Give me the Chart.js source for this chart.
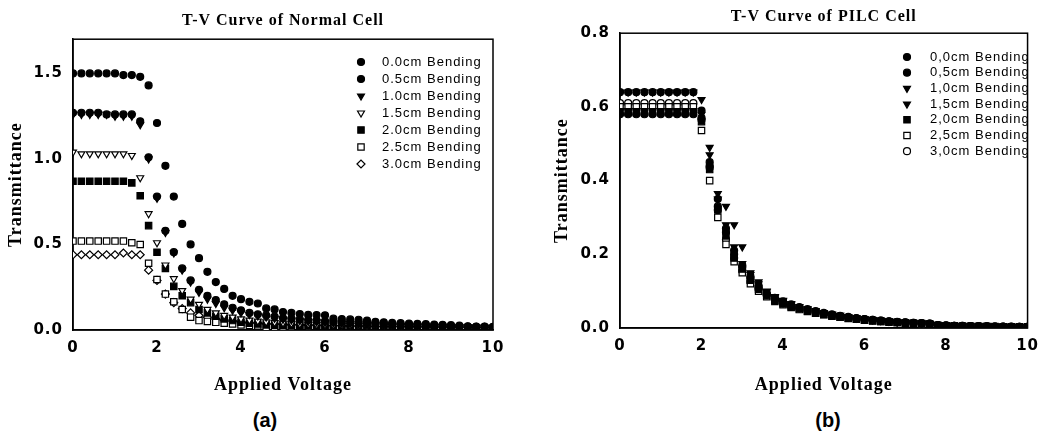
<!DOCTYPE html>
<html>
<head>
<meta charset="utf-8">
<script src="https://cdn.jsdelivr.net/npm/chart.js@4.4.1/dist/chart.umd.min.js"></script>
<style>
  html, body { margin: 0; padding: 0; background: #fff; }
  body { width: 1048px; height: 436px; position: relative; overflow: hidden; }
  canvas { position: absolute; top: 0; }
  #chartA { left: 0; }
  #chartB { left: 520px; }
  .caption { position: absolute; top: 409px; width: 60px; text-align: center;
             font: bold 20px "Liberation Sans", Arial, sans-serif; color: #000; }
</style>
</head>
<body>
<canvas id="chartA" width="520" height="400"></canvas>
<canvas id="chartB" width="528" height="400"></canvas>
<div class="caption" style="left:235px">(a)</div>
<div class="caption" style="left:798px">(b)</div>
<script>
// applied voltage, 0.2 V steps
const voltage = [
  0, 0.2, 0.4, 0.6, 0.8, 1.0, 1.2, 1.4, 1.6, 1.8,
  2.0, 2.2, 2.4, 2.6, 2.8, 3.0, 3.2, 3.4, 3.6, 3.8,
  4.0, 4.2, 4.4, 4.6, 4.8, 5.0, 5.2, 5.4, 5.6, 5.8,
  6.0, 6.2, 6.4, 6.6, 6.8, 7.0, 7.2, 7.4, 7.6, 7.8,
  8.0, 8.2, 8.4, 8.6, 8.8, 9.0, 9.2, 9.4, 9.6, 9.8,
  10.0
];

const xTicks = [0, 2, 4, 6, 8, 10];
const xTickLabels = ['0', '2', '4', '6', '8', '10'];
const yTicksA = [0, 0.5, 1.0, 1.5];
const yTickLabelsA = ['0.0', '0.5', '1.0', '1.5'];
const yTicksB = [0, 0.2, 0.4, 0.6, 0.8];
const yTickLabelsB = ['0.0', '0.2', '0.4', '0.6', '0.8'];

const legendA = ['0.0cm Bending', '0.5cm Bending', '1.0cm Bending', '1.5cm Bending',
                 '2.0cm Bending', '2.5cm Bending', '3.0cm Bending'];
const legendB = ['0,0cm Bending', '0,5cm Bending', '1,0cm Bending', '1,5cm Bending',
                 '2,0cm Bending', '2,5cm Bending', '3,0cm Bending'];

// (a) Normal cell
const normal00 = [
  1.50, 1.50, 1.50, 1.50, 1.50, 1.50, 1.49, 1.49, 1.48, 1.43,
  1.21, 0.96, 0.78, 0.62, 0.50, 0.42, 0.34, 0.28, 0.24, 0.20,
  0.18, 0.165, 0.155, 0.126, 0.12, 0.105, 0.10, 0.093, 0.088, 0.087,
  0.086, 0.066, 0.064, 0.062, 0.060, 0.055, 0.048, 0.045, 0.042, 0.040,
  0.038, 0.036, 0.034, 0.032, 0.030, 0.028, 0.025, 0.022, 0.020, 0.020,
  0.018
];
const normal05 = [
  1.27, 1.27, 1.27, 1.27, 1.26, 1.26, 1.26, 1.26, 1.22, 1.01,
  0.78, 0.58, 0.455, 0.36, 0.29, 0.235, 0.20, 0.175, 0.15, 0.13,
  0.115, 0.10, 0.092, 0.085, 0.078, 0.070, 0.066, 0.062, 0.058, 0.055,
  0.052, 0.050, 0.047, 0.045, 0.043, 0.041, 0.039, 0.037, 0.035, 0.033,
  0.031, 0.029, 0.028, 0.026, 0.025, 0.023, 0.022, 0.020, 0.019, 0.018,
  0.017
];
const normal10 = [
  1.26, 1.26, 1.26, 1.26, 1.26, 1.25, 1.25, 1.25, 1.20, 1.00,
  0.77, 0.57, 0.45, 0.35, 0.28, 0.22, 0.18, 0.155, 0.13, 0.115,
  0.10, 0.09, 0.082, 0.075, 0.068, 0.062, 0.058, 0.054, 0.050, 0.047,
  0.044, 0.041, 0.039, 0.037, 0.035, 0.033, 0.031, 0.029, 0.028, 0.026,
  0.025, 0.024, 0.023, 0.022, 0.021, 0.020, 0.019, 0.018, 0.017, 0.016,
  0.015
];
const normal15 = [
  1.04, 1.03, 1.03, 1.03, 1.03, 1.03, 1.03, 1.02, 0.89, 0.68,
  0.51, 0.38, 0.30, 0.23, 0.18, 0.15, 0.12, 0.10, 0.085, 0.075,
  0.065, 0.058, 0.052, 0.047, 0.043, 0.040, 0.037, 0.035, 0.033, 0.031,
  0.030, 0.028, 0.027, 0.026, 0.025, 0.024, 0.023, 0.022, 0.021, 0.020,
  0.020, 0.019, 0.018, 0.018, 0.017, 0.016, 0.016, 0.015, 0.015, 0.014,
  0.014
];
const normal20 = [
  0.87, 0.87, 0.87, 0.87, 0.87, 0.87, 0.87, 0.86, 0.785, 0.61,
  0.455, 0.36, 0.255, 0.20, 0.16, 0.12, 0.10, 0.08, 0.065, 0.055,
  0.045, 0.040, 0.035, 0.030, 0.027, 0.025, 0.023, 0.021, 0.020, 0.019,
  0.018, 0.017, 0.016, 0.016, 0.015, 0.014, 0.014, 0.013, 0.013, 0.012,
  0.012, 0.011, 0.011, 0.010, 0.010, 0.010, 0.009, 0.009, 0.009, 0.008,
  0.008
];
const normal25 = [
  0.52, 0.52, 0.52, 0.52, 0.52, 0.52, 0.52, 0.51, 0.50, 0.39,
  0.295, 0.21, 0.165, 0.12, 0.075, 0.055, 0.05, 0.045, 0.04, 0.035,
  0.03, 0.027, 0.024, 0.012, 0.010, 0.009, 0.008, 0.008, 0.007, 0.007,
  0.006, 0.006, 0.006, 0.005, 0.005, 0.005, 0.005, 0.004, 0.004, 0.004,
  0.004, 0.004, 0.003, 0.003, 0.003, 0.003, 0.003, 0.003, 0.003, 0.003,
  0.003
];
const normal30 = [
  0.44, 0.44, 0.44, 0.44, 0.44, 0.44, 0.45, 0.44, 0.44, 0.35,
  0.29, 0.21, 0.16, 0.125, 0.10, 0.085, 0.075, 0.065, 0.058, 0.052,
  0.047, 0.043, 0.040, 0.037, 0.035, 0.033, 0.031, 0.030, 0.029, 0.028,
  0.027, 0.026, 0.025, 0.024, 0.023, 0.022, 0.021, 0.021, 0.020, 0.020,
  0.019, 0.019, 0.018, 0.018, 0.017, 0.017, 0.016, 0.016, 0.015, 0.015,
  0.015
];

// (b) PILC cell
const pilc00 = [
  0.64, 0.64, 0.64, 0.64, 0.64, 0.64, 0.64, 0.64, 0.64, 0.64,
  0.59, 0.45, 0.35, 0.27, 0.21, 0.17, 0.14, 0.115, 0.095, 0.082,
  0.072, 0.064, 0.057, 0.051, 0.046, 0.041, 0.037, 0.033, 0.030, 0.027,
  0.024, 0.022, 0.020, 0.018, 0.016, 0.015, 0.014, 0.013, 0.012, 0.008,
  0.007, 0.006, 0.006, 0.005, 0.005, 0.005, 0.004, 0.004, 0.004, 0.003,
  0.003
];
const pilc05 = [
  0.58, 0.58, 0.58, 0.58, 0.58, 0.58, 0.58, 0.58, 0.58, 0.58,
  0.57, 0.44, 0.33, 0.26, 0.20, 0.165, 0.135, 0.11, 0.09, 0.077,
  0.067, 0.059, 0.053, 0.047, 0.042, 0.038, 0.034, 0.031, 0.028, 0.025,
  0.023, 0.021, 0.019, 0.017, 0.016, 0.014, 0.013, 0.012, 0.011, 0.007,
  0.006, 0.006, 0.005, 0.005, 0.004, 0.004, 0.004, 0.003, 0.003, 0.003,
  0.003
];
const pilc10 = [
  0.64, 0.64, 0.64, 0.64, 0.64, 0.64, 0.64, 0.64, 0.64, 0.64,
  0.62, 0.49, 0.365, 0.33, 0.28, 0.22, 0.15, 0.125, 0.10, 0.085,
  0.075, 0.066, 0.058, 0.052, 0.047, 0.042, 0.038, 0.034, 0.031, 0.028,
  0.025, 0.023, 0.021, 0.019, 0.017, 0.015, 0.014, 0.013, 0.012, 0.008,
  0.007, 0.006, 0.006, 0.005, 0.005, 0.005, 0.004, 0.004, 0.004, 0.004,
  0.003
];
const pilc15 = [
  0.59, 0.59, 0.59, 0.59, 0.59, 0.59, 0.59, 0.59, 0.59, 0.59,
  0.58, 0.47, 0.35, 0.28, 0.22, 0.175, 0.145, 0.12, 0.098, 0.083,
  0.073, 0.064, 0.057, 0.051, 0.046, 0.041, 0.037, 0.034, 0.030, 0.027,
  0.025, 0.022, 0.020, 0.018, 0.016, 0.015, 0.014, 0.013, 0.012, 0.008,
  0.007, 0.006, 0.006, 0.005, 0.005, 0.005, 0.004, 0.004, 0.004, 0.003,
  0.003
];
const pilc20 = [
  0.585, 0.585, 0.585, 0.585, 0.585, 0.585, 0.585, 0.585, 0.585, 0.585,
  0.56, 0.43, 0.32, 0.25, 0.19, 0.16, 0.13, 0.105, 0.088, 0.075,
  0.066, 0.058, 0.052, 0.046, 0.041, 0.037, 0.033, 0.030, 0.027, 0.025,
  0.022, 0.020, 0.018, 0.017, 0.015, 0.014, 0.013, 0.012, 0.011, 0.007,
  0.006, 0.006, 0.005, 0.005, 0.004, 0.004, 0.004, 0.003, 0.003, 0.003,
  0.003
];
const pilc25 = [
  0.60, 0.60, 0.60, 0.60, 0.60, 0.60, 0.60, 0.60, 0.60, 0.60,
  0.536, 0.40, 0.30, 0.227, 0.18, 0.15, 0.12, 0.10, 0.085, 0.072,
  0.063, 0.056, 0.050, 0.045, 0.040, 0.036, 0.032, 0.029, 0.026, 0.024,
  0.021, 0.019, 0.018, 0.016, 0.015, 0.013, 0.012, 0.011, 0.010, 0.007,
  0.006, 0.005, 0.005, 0.004, 0.004, 0.004, 0.003, 0.003, 0.003, 0.003,
  0.002
];
const pilc30 = [
  0.61, 0.61, 0.61, 0.61, 0.61, 0.61, 0.61, 0.61, 0.61, 0.61,
  0.565, 0.435, 0.32, 0.24, 0.19, 0.155, 0.125, 0.105, 0.09, 0.078,
  0.068, 0.060, 0.054, 0.048, 0.043, 0.039, 0.035, 0.032, 0.029, 0.026,
  0.024, 0.022, 0.020, 0.018, 0.017, 0.015, 0.014, 0.013, 0.012, 0.008,
  0.007, 0.006, 0.006, 0.005, 0.005, 0.004, 0.004, 0.004, 0.003, 0.003,
  0.003
];

const seriesA = [normal00, normal05, normal10, normal15, normal20, normal25, normal30];
const seriesB = [pilc00, pilc05, pilc10, pilc15, pilc20, pilc25, pilc30];

// marker looks for the seven bending series
const markersA = [
  { style: 'circle', rot: 0, r: 3.5, fill: true },
  { style: 'circle', rot: 0, r: 3.5, fill: true },
  { style: 'triangle', rot: 180, r: 4, fill: true },
  { style: 'triangle', rot: 180, r: 4, fill: false },
  { style: 'rect', rot: 0, r: 4.5, fill: true },
  { style: 'rect', rot: 0, r: 4.5, fill: false },
  { style: 'rectRot', rot: 0, r: 4, fill: false }
];
const markersB = [
  { style: 'circle', rot: 0, r: 3.5, fill: true },
  { style: 'circle', rot: 0, r: 3.5, fill: true },
  { style: 'triangle', rot: 180, r: 4, fill: true },
  { style: 'triangle', rot: 180, r: 4, fill: true },
  { style: 'rect', rot: 0, r: 4.5, fill: true },
  { style: 'rect', rot: 0, r: 4.5, fill: false },
  { style: 'circle', rot: 0, r: 3.5, fill: false }
];

const serif = '"Liberation Serif", "Times New Roman", serif';
const sans = '"Liberation Sans", Arial, sans-serif';

// box around the plot + legend drawn inside the plot area
const framePlugin = {
  id: 'frameLegend',
  beforeLayout(chart) { chart.ctx.letterSpacing = '1px'; },
  beforeDraw(chart) { chart.ctx.letterSpacing = '1px'; },
  beforeDatasetsDraw(chart) {
    const { ctx, chartArea: a } = chart;
    ctx.save();
    ctx.strokeStyle = '#000';
    ctx.lineWidth = 1.5;
    ctx.strokeRect(a.left, a.top, a.right - a.left, a.bottom - a.top);
    ctx.restore();
  },
  afterDatasetsDraw(chart, args, opts) {
    const ctx = chart.ctx;
    ctx.save();
    ctx.font = opts.font;
    ctx.textBaseline = 'middle';
    ctx.textAlign = 'left';
    chart.data.datasets.forEach((ds, i) => {
      const y = opts.top + i * opts.step;
      ctx.fillStyle = ds.backgroundColor;
      ctx.strokeStyle = '#000';
      ctx.lineWidth = 1.2;
      Chart.helpers.drawPoint(ctx, {
        pointStyle: ds.pointStyle, rotation: ds.rotation,
        radius: ds.pointRadius, borderWidth: 1.2
      }, opts.markerX, y);
      ctx.fillStyle = '#000';
      ctx.fillText(ds.label, opts.textX, y);
    });
    ctx.restore();
  }
};

function makeChart(id, cfg) {
  const datasets = cfg.series.map((s, i) => {
    const m = cfg.markers[i];
    return {
      label: cfg.labels[i],
      data: voltage.map((v, j) => ({ x: v, y: s[j] })),
      pointStyle: m.style,
      rotation: m.rot,
      pointRadius: m.r,
      pointHoverRadius: m.r,
      pointBorderWidth: 1.2,
      borderColor: '#000',
      backgroundColor: m.fill ? '#000' : '#fff',
      showLine: false
    };
  });

  return new Chart(document.getElementById(id), {
    type: 'scatter',
    data: { datasets: datasets },
    plugins: [framePlugin],
    options: {
      responsive: false,
      animation: false,
      devicePixelRatio: 1,
      layout: { padding: { left: 0, right: cfg.padRight, top: 0, bottom: 0 } },
      plugins: {
        legend: { display: false },
        tooltip: { enabled: false },
        title: {
          display: true,
          text: cfg.title,
          fullSize: false,
          color: '#000',
          font: { family: serif, size: 16, weight: 'bold' },
          padding: cfg.titlePad
        },
        frameLegend: cfg.legend
      },
      scales: {
        x: {
          type: 'linear',
          min: 0, max: 10,
          afterBuildTicks: s => { s.ticks = xTicks.map(v => ({ value: v })); },
          afterFit: s => { s.height = cfg.xHeight; },
          border: { color: '#000', width: 1.5 },
          grid: { display: false, drawTicks: false },
          ticks: {
            color: '#000', padding: 9,
            font: { family: '"DejaVu Sans", sans-serif', size: 15, weight: 'bold' },
            callback: (v, i) => xTickLabels[i]
          },
          title: {
            display: true, text: 'Applied Voltage', color: '#000',
            font: { family: serif, size: 18, weight: 'bold' },
            padding: { top: 0, bottom: 4 }
          }
        },
        y: {
          type: 'linear',
          min: 0, max: cfg.yMax,
          afterBuildTicks: s => { s.ticks = cfg.yTicks.map(v => ({ value: v })); },
          afterFit: s => { s.width = cfg.yWidth; },
          border: { color: '#000', width: 1.5 },
          grid: { display: false, drawTicks: false },
          ticks: {
            color: '#000', padding: 10,
            font: { family: '"DejaVu Sans", sans-serif', size: 15, weight: 'bold' },
            callback: (v, i) => cfg.yLabels[i]
          },
          title: {
            display: true, text: 'Transmittance', color: '#000',
            font: { family: serif, size: 18, weight: 'bold' },
            padding: { top: cfg.yTitlePad, bottom: 0 }
          }
        }
      }
    }
  });
}

makeChart('chartA', {
  title: 'T-V Curve of Normal Cell',
  series: seriesA, markers: markersA, labels: legendA,
  yMax: 1.7, yTicks: yTicksA, yLabels: yTickLabelsA,
  yWidth: 73, xHeight: 70, padRight: 27, yTitlePad: 6,
  titlePad: { top: 11, bottom: 9 },
  legend: { markerX: 361, textX: 382, top: 62, step: 17, font: '13px ' + sans }
});

makeChart('chartB', {
  title: 'T-V Curve of PILC Cell',
  series: seriesB, markers: markersB, labels: legendB,
  yMax: 0.8, yTicks: yTicksB, yLabels: yTickLabelsB,
  yWidth: 100, xHeight: 72, padRight: 11, yTitlePad: 32,
  titlePad: { top: 7, bottom: 7 },
  legend: { markerX: 387, textX: 410, top: 57, step: 15.7, font: '13px ' + sans }
});
</script>
</body>
</html>
